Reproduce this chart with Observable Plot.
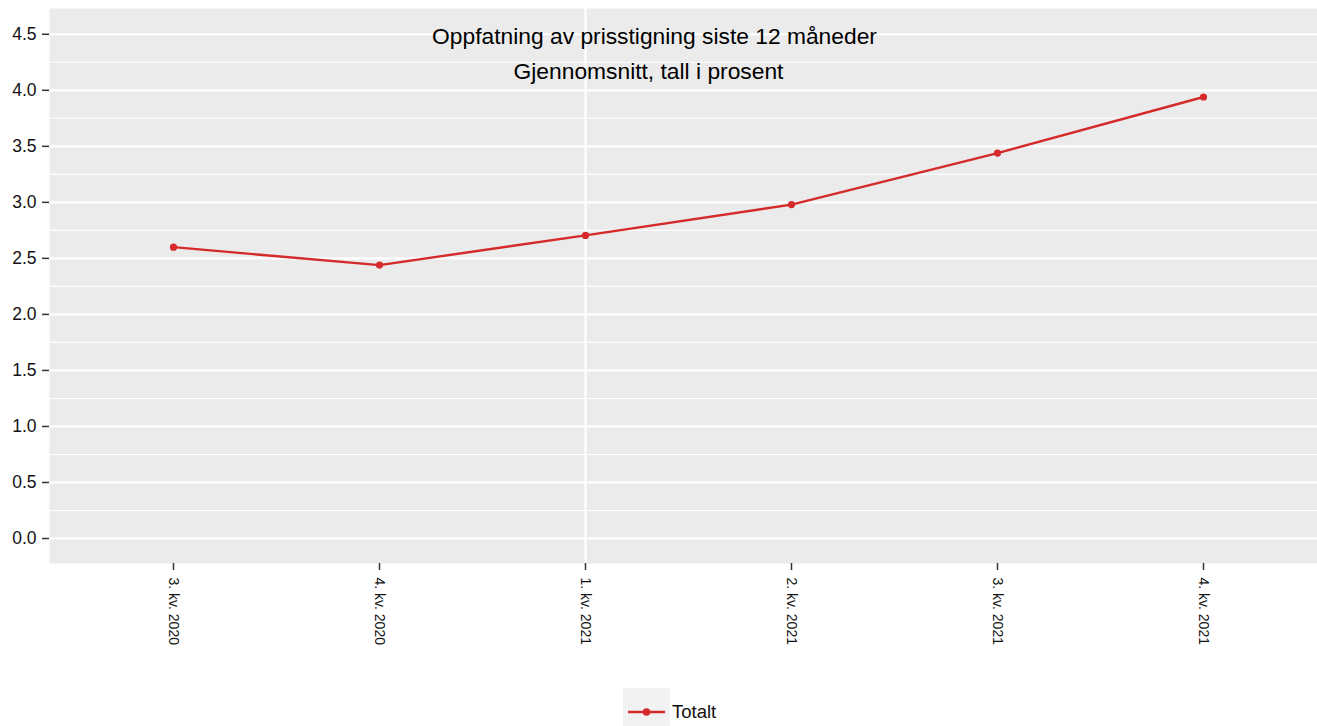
<!DOCTYPE html>
<html>
<head>
<meta charset="utf-8">
<script src="https://cdn.jsdelivr.net/npm/d3@7"></script>
<script src="https://cdn.jsdelivr.net/npm/@observablehq/plot@0.6"></script>
<style>
  body { margin: 0; background: #fff; font-family: "Liberation Sans", Arial, sans-serif; }
  #legend { position: relative; height: 46px; }
  #legend .key { position: absolute; left: 623px; top: 8px; width: 47px; height: 38px; background: #F2F2F2; }
  #legend .lbl { position: absolute; left: 672px; top: 21px; font-size: 18.5px; color: #111; line-height: 22px; }
</style>
</head>
<body>
<div id="chart"></div>
<div id="legend"><div class="key"><svg width="47" height="38"><line x1="5" x2="42" y1="24" y2="24" stroke="#D42A2A" stroke-width="2.5"/><circle cx="23.5" cy="24" r="3.8" fill="#D42A2A"/></svg></div><div class="lbl">Totalt</div></div>
<script>
const quarters = ["3. kv. 2020", "4. kv. 2020", "1. kv. 2021", "2. kv. 2021", "3. kv. 2021", "4. kv. 2021"];
const totalt = [2.60, 2.44, 2.705, 2.98, 3.44, 3.94];
const majorTicks = [0, 0.5, 1, 1.5, 2, 2.5, 3, 3.5, 4, 4.5];
const minorTicks = [0.25, 0.75, 1.25, 1.75, 2.25, 2.75, 3.25, 3.75, 4.25, 4.75].filter(v => v < 4.73);
const verticalGrid = ["1. kv. 2021"];
const title = "Oppfatning av prisstigning siste 12 måneder";
const subtitle = "Gjennomsnitt, tall i prosent";

const data = quarters.map((q, i) => ({q, v: totalt[i]}));
const red = "#D42A2A";

const plot = Plot.plot({
  width: 1317,
  height: 680,
  marginLeft: 49,
  marginRight: 0,
  marginTop: 8,
  marginBottom: 117,
  style: {fontFamily: "'Liberation Sans', Arial, sans-serif", background: "#fff"},
  x: {type: "point", domain: quarters, range: [173, 1203], padding: 0},
  y: {domain: [-0.223, 4.73]},
  marks: [
    Plot.frame({fill: "#EBEBEB", stroke: null}),
    Plot.ruleY(minorTicks, {stroke: "#fff", strokeWidth: 1.1}),
    Plot.ruleY(majorTicks, {stroke: "#fff", strokeWidth: 2.2}),
    Plot.ruleX(verticalGrid, {stroke: "#fff", strokeWidth: 2.2}),
    Plot.axisY({ticks: majorTicks, tickFormat: d3.format(".1f"), tickSize: 7, tickPadding: 6, fontSize: 17.5, stroke: "#333", strokeWidth: 1.5, fill: "#111", label: null}),
    Plot.axisX({tickRotate: 90, tickSize: 7, tickPadding: 7, fontSize: 14, stroke: "#333", strokeWidth: 1.5, fill: "#111", label: null}),
    Plot.line(data, {x: "q", y: "v", stroke: red, strokeWidth: 2.4}),
    Plot.dot(data, {x: "q", y: "v", fill: red, r: 3.6}),
    Plot.text([title], {frameAnchor: "top", lineAnchor: "middle", dx: -29, dy: 28, fontSize: 22.8, fill: "#000", text: d => d}),
    Plot.text([subtitle], {frameAnchor: "top", lineAnchor: "middle", dx: -35, dy: 63, fontSize: 22.8, fill: "#000", text: d => d})
  ]
});
document.getElementById("chart").appendChild(plot);
</script>
</body>
</html>
